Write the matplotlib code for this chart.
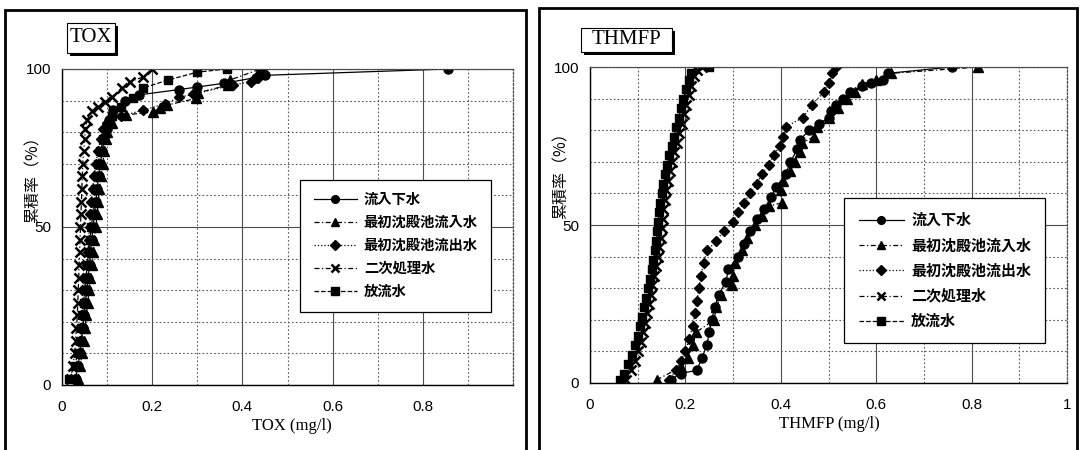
import matplotlib.pyplot as plt
from matplotlib.patches import Rectangle
from matplotlib.ticker import MultipleLocator

plt.rcParams['font.family'] = ['Liberation Sans', 'DejaVu Sans']

# 系列名
series_names = ['流入下水', '最初沈殿池流入水', '最初沈殿池流出水', '二次処理水', '放流水']

# TOX (mg/l) と累積率 (%)
tox_inflow_x = [0.030, 0.035, 0.040, 0.043, 0.046, 0.049, 0.052, 0.055, 0.058, 0.061,
                0.063, 0.066, 0.069, 0.072, 0.075, 0.078, 0.081, 0.085, 0.089, 0.094,
                0.099, 0.105, 0.114, 0.140, 0.170, 0.260, 0.300, 0.360, 0.430, 0.450, 0.855]
tox_inflow_y = [2, 6, 10, 14, 18, 22, 26, 30, 34, 38,
                42, 46, 50, 54, 58, 62, 66, 70, 74, 78,
                81, 84, 87, 90, 91.8, 93.5, 94.3, 95.5, 97.3, 98, 100]

tox_pin_x = [0.035, 0.040, 0.045, 0.048, 0.051, 0.054, 0.057, 0.060, 0.063, 0.066,
             0.069, 0.072, 0.075, 0.078, 0.080, 0.083, 0.086, 0.090, 0.094, 0.097,
             0.100, 0.110, 0.143, 0.202, 0.217, 0.233, 0.298, 0.302, 0.368, 0.372, 0.440]
tox_pin_y = [2, 6, 10, 14, 18, 22, 26, 30, 34, 38,
             42, 46, 50, 54, 58, 62, 66, 70, 74, 78,
             80, 83, 85.5, 86.4, 87.7, 88.6, 90.7, 92.5, 94.9, 96.5, 100]

tox_pout_x = [0.028, 0.034, 0.040, 0.043, 0.046, 0.048, 0.050, 0.052, 0.054, 0.056,
              0.058, 0.059, 0.061, 0.063, 0.065, 0.068, 0.071, 0.075, 0.080, 0.086,
              0.092, 0.100, 0.130, 0.180, 0.229, 0.259, 0.290, 0.380, 0.420, 0.435,
              0.440, 0.443]
tox_pout_y = [2, 6, 10, 14, 18, 22, 26, 30, 34, 38,
              42, 46, 50, 54, 58, 62, 66, 70, 74, 78,
              81, 83, 85, 87, 89, 91, 92, 95, 96, 97,
              98.5, 100]

tox_sec_x = [0.020, 0.024, 0.028, 0.030, 0.032, 0.034, 0.035, 0.036, 0.037, 0.038,
             0.039, 0.040, 0.041, 0.042, 0.043, 0.044, 0.045, 0.046, 0.048, 0.050,
             0.052, 0.056, 0.066, 0.080, 0.095, 0.110, 0.132, 0.151, 0.180, 0.199]
tox_sec_y = [2, 6, 10, 14, 18, 22, 26, 30, 34, 38,
             42, 46, 50, 54, 58, 62, 66, 70, 74, 78,
             81, 84, 86.7, 88, 89.7, 91, 94, 96, 97.5, 100]

tox_eff_x = [0.015, 0.028, 0.035, 0.039, 0.042, 0.045, 0.048, 0.050, 0.053, 0.056,
             0.059, 0.062, 0.065, 0.068, 0.071, 0.074, 0.077, 0.080, 0.085, 0.092,
             0.100, 0.110, 0.130, 0.157, 0.180, 0.235, 0.300, 0.365]
tox_eff_y = [2, 6, 10, 14, 18, 22, 26, 30, 34, 38,
             42, 46, 50, 54, 58, 62, 66, 70, 74, 78,
             82, 85, 88, 90.7, 94, 96.5, 99, 100]

# THMFP (mg/l) と累積率 (%)
thm_inflow_x = [0.170, 0.190, 0.224, 0.235, 0.245, 0.250, 0.255, 0.262, 0.270, 0.285,
                0.290, 0.310, 0.322, 0.335, 0.350, 0.365, 0.380, 0.390, 0.410, 0.420,
                0.435, 0.440, 0.460, 0.480, 0.500, 0.505, 0.515, 0.530, 0.545, 0.570,
                0.590, 0.614, 0.625, 0.758]
thm_inflow_y = [1, 3, 4, 8, 12, 16, 20, 24, 28, 32,
                36, 40, 44, 48, 52, 55, 59, 62, 66, 70,
                74, 77, 80, 82, 84, 86, 88, 90, 92, 94,
                95, 96, 98, 100]

thm_pin_x = [0.140, 0.190, 0.205, 0.215, 0.222, 0.260, 0.265, 0.275, 0.298, 0.300,
             0.305, 0.318, 0.330, 0.345, 0.360, 0.375, 0.402, 0.400, 0.405, 0.420,
             0.430, 0.440, 0.445, 0.470, 0.475, 0.500, 0.520, 0.538, 0.555, 0.570,
             0.600, 0.632, 0.814]
thm_pin_y = [1, 5, 8, 12, 16, 20, 24, 28, 31, 34,
             38, 42, 46, 50, 53, 56, 57, 61, 64, 67,
             70, 73, 76, 78, 81, 84, 87, 90, 92, 94.5,
             96, 98, 100]

thm_pout_x = [0.165, 0.180, 0.190, 0.200, 0.208, 0.215, 0.220, 0.224, 0.228, 0.233,
              0.238, 0.246, 0.265, 0.280, 0.300, 0.310, 0.322, 0.336, 0.350, 0.360,
              0.375, 0.385, 0.398, 0.405, 0.410, 0.446, 0.465, 0.490, 0.500, 0.508, 0.515]
thm_pout_y = [1, 4, 7, 10, 14, 18, 22, 26, 30, 34,
              38, 42, 45, 48, 51, 54, 57, 60, 63, 66,
              69, 72, 75, 78, 81, 84, 88, 92, 95, 98, 100]

thm_sec_x = [0.075, 0.086, 0.094, 0.100, 0.106, 0.111, 0.115, 0.119, 0.123, 0.127,
             0.131, 0.135, 0.139, 0.142, 0.145, 0.148, 0.150, 0.152, 0.154, 0.157,
             0.160, 0.164, 0.168, 0.172, 0.177, 0.182, 0.187, 0.192, 0.197, 0.202,
             0.207, 0.212, 0.218, 0.225, 0.235]
thm_sec_y = [1, 4, 7, 10, 13, 16, 19, 22, 25, 28,
             31, 34, 37, 40, 43, 46, 49, 52, 55, 58,
             61, 64, 67, 70, 73, 76, 79, 82, 85, 88,
             91, 94, 97, 99, 100]

thm_eff_x = [0.062, 0.072, 0.080, 0.088, 0.094, 0.100, 0.105, 0.109, 0.113, 0.117,
             0.121, 0.125, 0.129, 0.133, 0.136, 0.139, 0.141, 0.143, 0.145, 0.147,
             0.150, 0.154, 0.158, 0.162, 0.166, 0.171, 0.176, 0.181, 0.186, 0.191,
             0.196, 0.201, 0.207, 0.212, 0.250]
thm_eff_y = [1, 3, 6, 9, 12, 15, 18, 21, 24, 27,
             30, 33, 36, 39, 42, 45, 48, 51, 54, 57,
             60, 63, 66, 69, 72, 75, 78, 81, 84, 87,
             90, 93, 96, 98, 100]

x_ticks = [0, 0.2, 0.4, 0.6, 0.8, 1.0]
tox_tick_labels = ['0', '0.2', '0.4', '0.6', '0.8', '']
thm_tick_labels = ['0', '0.2', '0.4', '0.6', '0.8', '1']
y_ticks = [0, 50, 100]

# 線種・マーカー
styles = [
    dict(marker='o', ls='-', ms=6.5),
    dict(marker='^', ls=(0, (4, 2, 1, 2)), ms=7),
    dict(marker='D', ls=':', ms=5.5),
    dict(marker='x', ls=(0, (4, 2, 1, 2)), ms=7, mew=1.8),
    dict(marker='s', ls='--', ms=6),
]

W, H = 1080, 450
fig = plt.figure(figsize=(W / 100, H / 100), dpi=100)


def px_rect(x0, y0, x1, y1):
    return [x0 / W, 1 - y1 / H, (x1 - x0) / W, (y1 - y0) / H]


def draw_panel(ax, data, tick_labels, leg_center, leg_size):
    for (xs, ys), name, st in zip(data, series_names, styles):
        ax.plot(xs, ys, color='black', lw=0.9, label=name, mfc='black', mec='black',
                **st)
    ax.set_xlim(0, 1)
    ax.set_ylim(0, 100)
    ax.set_xticks(x_ticks)
    ax.set_xticklabels(tick_labels)
    ax.set_yticks(y_ticks)
    ax.xaxis.set_minor_locator(MultipleLocator(0.1))
    ax.yaxis.set_minor_locator(MultipleLocator(10))
    ax.tick_params(which='both', length=0)
    ax.tick_params(axis='x', pad=11, labelsize=11)
    ax.tick_params(axis='y', pad=8, labelsize=11)
    ax.grid(which='major', color='0.3', lw=0.8, ls='-')
    ax.grid(which='minor', color='0.35', lw=0.8, ls=(0, (1.5, 2)))
    ax.set_axisbelow(True)
    for side in ['left', 'bottom']:
        ax.spines[side].set_linewidth(1.0)
    for side in ['top', 'right']:
        ax.spines[side].set_linestyle((0, (1.5, 1.5)))
        ax.spines[side].set_linewidth(0.9)
        ax.spines[side].set_color('0.3')
    leg = ax.legend(loc='center', bbox_to_anchor=leg_center, frameon=True, fancybox=False,
                    framealpha=1, edgecolor='black', handlelength=3.0, handletextpad=0.5,
                    borderpad=0.95, labelspacing=0.62, borderaxespad=0, markerscale=0.85,
                    prop=dict(family=['Noto Sans CJK JP', 'DejaVu Sans'], size=leg_size,
                              weight='bold'))
    leg.get_frame().set_linewidth(0.9)


ax1 = fig.add_axes(px_rect(62, 69, 513, 385))
ax2 = fig.add_axes(px_rect(590, 67, 1067, 383))

tox_data = [(tox_inflow_x, tox_inflow_y), (tox_pin_x, tox_pin_y), (tox_pout_x, tox_pout_y),
            (tox_sec_x, tox_sec_y), (tox_eff_x, tox_eff_y)]
thm_data = [(thm_inflow_x, thm_inflow_y), (thm_pin_x, thm_pin_y), (thm_pout_x, thm_pout_y),
            (thm_sec_x, thm_sec_y), (thm_eff_x, thm_eff_y)]

draw_panel(ax1, tox_data, tox_tick_labels, (0.74, 0.44), 10.3)
draw_panel(ax2, thm_data, thm_tick_labels, (0.744, 0.356), 10.8)

# パネル枠
for x0, y0, x1, y1 in [(5, 10, 526, 460), (539, 8, 1077, 460)]:
    fig.add_artist(Rectangle((x0 / W, 1 - y1 / H), (x1 - x0) / W, (y1 - y0) / H,
                             transform=fig.transFigure, fill=False, ec='black', lw=2.0))

# タイトルボックス（影付き）
for (x0, y0, x1, y1), title in [((67, 23, 115, 53), 'TOX'), ((581, 28, 672, 52), 'THMFP')]:
    fig.add_artist(Rectangle(((x0 + 3) / W, 1 - (y1 + 3) / H), (x1 - x0) / W,
                             (y1 - y0) / H, transform=fig.transFigure,
                             fc='black', ec='black', lw=0))
    fig.add_artist(Rectangle((x0 / W, 1 - y1 / H), (x1 - x0) / W, (y1 - y0) / H,
                             transform=fig.transFigure, fc='white', ec='black', lw=0.8))
    fig.text((x0 + x1) / 2 / W, 1 - (y0 + y1) / 2 / H, title, ha='center', va='center',
             family='Liberation Serif', fontsize=15)

# 軸ラベル
fig.text(33 / W, 1 - 176 / H, '累積率（%）', rotation=90, ha='center', va='center',
         family=['Noto Sans CJK JP', 'DejaVu Sans'], fontsize=11.5)
fig.text(561 / W, 1 - 172 / H, '累積率（%）', rotation=90, ha='center', va='center',
         family=['Noto Sans CJK JP', 'DejaVu Sans'], fontsize=11.5)
fig.text(292 / W, 1 - 426 / H, 'TOX (mg/l)', ha='center', va='center',
         family='Liberation Serif', fontsize=12)
fig.text(829 / W, 1 - 424 / H, 'THMFP (mg/l)', ha='center', va='center',
         family='Liberation Serif', fontsize=12)

fig.savefig('out.png', dpi=100)
